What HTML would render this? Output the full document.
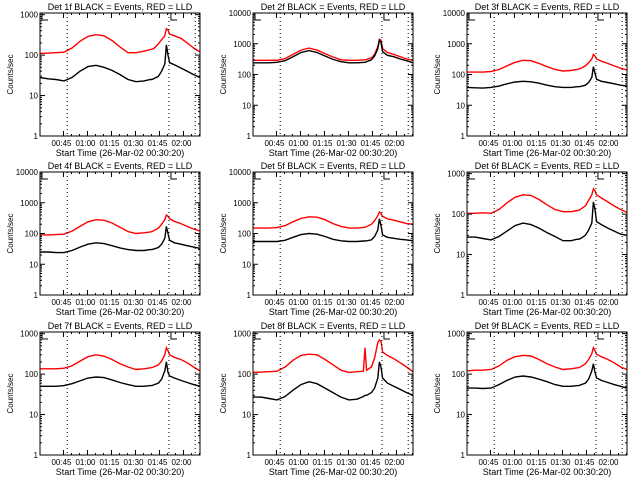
<!DOCTYPE html>
<html><head><meta charset="utf-8"><style>
html,body{margin:0;padding:0;background:#fff;}
svg{display:block;font-family:"Liberation Sans",sans-serif;}
</style></head><body>
<svg id="chart" width="640" height="480" viewBox="0 0 640 480"></svg>
<script>
// minutes after start time 00:30:20
const times = [0,5,10,15,20,25,30,35,40,45,50,55,60,65,69,70,71,74,76,78,79,80,81,84,88,92,96,100];
const detNames = ["1f","2f","3f","4f","5f","6f","7f","8f","9f"];
const yMaxLabels = [1000,10000,10000,10000,10000,1000,1000,1000,1000];
const tickLabels = ["00:45","01:00","01:15","01:30","01:45","02:00"];
const tickMinutes = [14.67,29.67,44.67,59.67,74.67,89.67];
const dottedMinutes = [17,80.6,97];
const red1 = [110,112,115,118,150,220,290,320,300,230,160,115,115,125,138,140,145,190,240,300,450,420,330,300,260,200,150,120];
const blk1 = [28,26,25,23,28,40,52,56,50,42,33,25,22,23,25,25,26,30,40,60,180,100,65,58,48,40,33,28];
const red2 = [290,290,290,290,330,450,620,720,620,480,370,300,290,290,298,300,310,350,450,800,1400,1300,700,520,450,380,320,290];
const blk2 = [240,240,240,250,280,380,520,600,520,400,310,260,240,240,248,250,260,300,400,700,1300,1100,550,420,380,320,280,240];
const red3 = [120,120,120,125,145,190,250,290,280,230,180,145,130,135,148,150,158,190,240,320,450,400,320,270,230,190,160,140];
const blk3 = [38,37,36,38,42,50,57,60,58,52,45,40,38,38,40,40,41,45,55,80,180,110,70,60,55,50,45,42];
const red4 = [90,90,92,95,120,170,240,280,270,220,160,115,100,105,113,115,122,150,200,280,400,360,300,250,210,170,140,120];
const blk4 = [25,25,24,24,28,36,45,50,47,40,34,30,28,28,30,30,31,35,45,70,170,100,60,50,45,40,36,33];
const red5 = [150,150,150,155,180,240,310,350,340,280,210,170,150,150,158,160,168,200,260,380,500,450,360,300,270,240,210,200];
const blk5 = [55,55,55,55,60,75,92,100,95,80,65,58,55,55,57,57,58,62,80,130,300,180,90,75,70,65,62,58];
const red6 = [105,105,108,105,130,190,260,300,290,230,170,130,115,115,123,125,132,160,220,300,420,380,300,250,200,160,130,110];
const blk6 = [27,27,25,23,28,38,52,60,55,45,35,28,22,22,24,24,25,30,40,60,200,130,65,55,45,38,32,30];
const red7 = [135,135,135,140,160,210,270,300,280,230,180,150,130,135,143,145,150,170,210,300,450,380,300,260,230,190,150,120];
const blk7 = [50,50,50,52,58,68,80,85,82,72,62,55,50,50,52,52,54,60,75,120,200,110,90,80,70,62,55,50];
const red8 = [110,112,115,118,150,220,290,310,300,230,170,125,110,115,118,450,125,150,250,600,700,650,350,290,240,190,150,115];
const blk8 = [27,27,25,23,28,40,55,65,58,45,35,27,23,24,28,30,30,35,45,80,200,150,80,60,50,42,35,30];
const red9 = [120,125,125,130,160,220,270,290,280,230,180,150,130,135,143,145,152,180,230,320,450,380,310,270,230,190,150,130];
const blk9 = [45,45,44,45,55,70,85,90,85,75,65,55,50,50,52,52,54,60,75,120,180,110,80,70,62,55,50,45];
const redSeries = [red1,red2,red3,red4,red5,red6,red7,red8,red9];
const blackSeries = [blk1,blk2,blk3,blk4,blk5,blk6,blk7,blk8,blk9];

const NS="http://www.w3.org/2000/svg";
const svg=document.getElementById('chart');
function mk(tag,attrs,parent){const e=document.createElementNS(NS,tag);for(const k in attrs)e.setAttribute(k,attrs[k]);parent.appendChild(e);return e;}
const colX=[40,253,467], rowY=[13,172,332];
const W=160,H=123;
for(let p=0;p<9;p++){
  const L=colX[p%3], T=rowY[Math.floor(p/3)];
  const ymax=yMaxLabels[p];
  const logTop=(ymax===1000)?Math.log10(1100):4;
  const xS=t=>L+t*W/100;
  const yS=v=>T+H-(Math.log10(v)/logTop)*H;
  const g=mk('g',{},svg);
  
  
  const title=mk('text',{x:L+W/2,y:T-3,'text-anchor':'middle','font-size':'9'},g);
  title.textContent='Det '+detNames[p]+' BLACK = Events, RED = LLD';
  
  
  function line(vals,color,name){
    let d='';
    vals.forEach((v,i)=>{d+=(i?'L':'M')+xS(times[i]).toFixed(1)+','+yS(v).toFixed(1);});
    const pth=mk('path',{d:d,fill:'none',stroke:color,'stroke-width':'1.4'},g);
    
    
  }
  line(redSeries[p],'#ff0000','lld-series');
  line(blackSeries[p],'#000000','events-series');
  dottedMinutes.forEach(m=>{
    const l=mk('line',{x1:xS(m),x2:xS(m),y1:T,y2:T+H,stroke:'#000','stroke-width':'1','stroke-dasharray':'1,3'},g);
    
    
  });
  [L+2, xS(80.6)+2].forEach(ax=>{
    const mkp=mk('path',{d:`M${ax},${T} V${T+7} H${ax+6}`,fill:'none',stroke:'#000','stroke-width':'1'},g);
    
    
  });
  const box=mk('rect',{x:L,y:T,width:W,height:H,fill:'none',stroke:'#000','stroke-width':'1'},g);
  
  
  const nDec=(ymax===1000)?3:4;
  for(let k=0;k<=nDec;k++){
    const v=Math.pow(10,k), y=yS(v);
    mk('line',{x1:L,x2:L+5,y1:y,y2:y,stroke:'#000'},g);
    mk('line',{x1:L+W-5,x2:L+W,y1:y,y2:y,stroke:'#000'},g);
    if(k<nDec){for(let m=2;m<10;m++){const ym=yS(v*m);mk('line',{x1:L,x2:L+2,y1:ym,y2:ym,stroke:'#000'},g);mk('line',{x1:L+W-2,x2:L+W,y1:ym,y2:ym,stroke:'#000'},g);}}
    const tl=mk('text',{x:L-2,y:y+3,'text-anchor':'end','font-size':'8'},g);
    tl.textContent=String(v);
    
    
  }
  tickMinutes.forEach((m,i)=>{
    const x=xS(m);
    mk('line',{x1:x,x2:x,y1:T+H,y2:T+H-5,stroke:'#000'},g);
    mk('line',{x1:x,x2:x,y1:T,y2:T+5,stroke:'#000'},g);
    for(let j=1;j<3;j++){const xm=xS(m+5*j);if(xm<L+W){mk('line',{x1:xm,x2:xm,y1:T+H,y2:T+H-2,stroke:'#000'},g);mk('line',{x1:xm,x2:xm,y1:T,y2:T+2,stroke:'#000'},g);}}
    const tl=mk('text',{x:x-2,y:T+H+10,'text-anchor':'middle','font-size':'8'},g);
    tl.textContent=tickLabels[i];
    
    
  });
  const xt=mk('text',{x:L+W/2,y:T+H+20,'text-anchor':'middle','font-size':'9'},g);
  xt.textContent='Start Time (26-Mar-02 00:30:20)';
  
  
  const yt=mk('text',{x:0,y:0,'text-anchor':'middle','font-size':'8',transform:`translate(${L-27},${T+H/2}) rotate(-90)`},g);
  yt.textContent='Counts/sec';
  
  
}
</script>
</body></html>
